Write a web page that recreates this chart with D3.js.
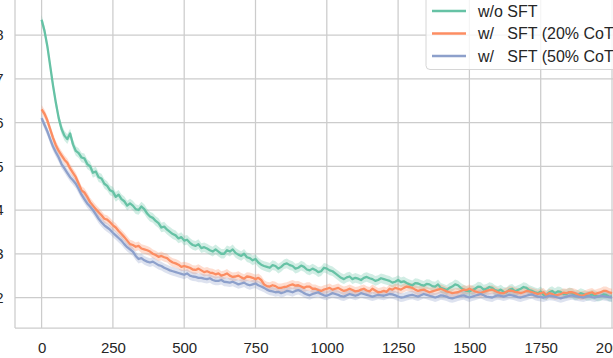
<!DOCTYPE html>
<html><head><meta charset="utf-8">
<script src="https://cdn.jsdelivr.net/npm/d3@7"></script>
<style>body{margin:0;background:#fff}svg{display:block}text{font-family:"Liberation Sans",Arial,sans-serif}</style>
</head><body>
<svg id="c" width="613" height="358"></svg>
<script>
const steps = d3.range(0, 2001, 10);
const xTicks = [0,250,500,750,1000,1250,1500,1750,2000];
const yTicks = [2,3,4,5,6,7,8];
const seriesNames = ["w/o SFT", "w/   SFT (20% CoT)", "w/   SFT (50% CoT)"];
const woSFT = [8.35,8.1,7.75,7.3,6.85,6.45,6.1,5.85,5.7,5.62,5.75,5.5,5.35,5.3,5.2,5.18,5.05,5.0,4.85,4.88,
4.75,4.72,4.6,4.55,4.45,4.42,4.3,4.35,4.25,4.2,4.1,4.15,4.1,4.02,4.0,4.08,4.02,3.92,3.85,3.82,
3.75,3.7,3.6,3.62,3.55,3.5,3.45,3.42,3.35,3.38,3.3,3.32,3.25,3.2,3.18,3.22,3.13,3.15,3.12,3.08,
3.05,3.1,3.05,3.0,3.0,3.08,3.05,3.1,3.02,2.98,2.95,3.0,2.92,2.9,2.85,2.88,2.8,2.75,2.72,2.7,
2.68,2.74,2.72,2.66,2.7,2.76,2.78,2.74,2.72,2.66,2.68,2.73,2.7,2.64,2.62,2.66,2.63,2.58,2.6,2.68,
2.66,2.62,2.6,2.55,2.5,2.45,2.42,2.46,2.48,2.42,2.45,2.43,2.4,2.45,2.47,2.44,2.42,2.38,2.4,2.44,
2.42,2.4,2.38,2.34,2.36,2.4,2.35,2.37,2.33,2.3,2.28,2.33,2.32,2.29,2.27,2.31,2.3,2.26,2.25,2.3,
2.22,2.2,2.17,2.22,2.25,2.3,2.28,2.22,2.18,2.15,2.14,2.17,2.2,2.25,2.24,2.18,2.2,2.24,2.22,2.17,
2.15,2.18,2.13,2.12,2.18,2.2,2.14,2.17,2.2,2.24,2.22,2.17,2.15,2.12,2.1,2.14,2.06,2.05,2.12,2.15,
2.1,2.14,2.13,2.08,2.08,2.12,2.1,2.05,2.06,2.1,2.08,2.04,2.04,2.07,2.05,2.02,2.03,2.07,2.06,2.02,
2.02];
const sft20 = [6.3,6.2,6.05,5.85,5.65,5.48,5.35,5.25,5.15,5.08,4.95,4.85,4.75,4.6,4.45,4.4,4.3,4.18,4.1,4.02,
3.95,3.88,3.8,3.78,3.72,3.65,3.6,3.52,3.45,3.38,3.3,3.22,3.2,3.16,3.18,3.12,3.1,3.08,3.05,3.0,
2.97,2.93,2.95,2.92,2.9,2.84,2.8,2.78,2.75,2.7,2.72,2.7,2.68,2.64,2.63,2.66,2.62,2.58,2.6,2.57,
2.56,2.53,2.55,2.5,2.52,2.55,2.5,2.47,2.48,2.5,2.46,2.43,2.48,2.47,2.45,2.42,2.45,2.4,2.3,2.26,
2.25,2.28,2.26,2.22,2.22,2.24,2.25,2.28,2.3,2.27,2.28,2.25,2.22,2.25,2.25,2.2,2.2,2.17,2.15,2.18,
2.2,2.22,2.18,2.2,2.22,2.18,2.15,2.17,2.2,2.17,2.14,2.15,2.18,2.2,2.16,2.14,2.2,2.16,2.12,2.13,
2.15,2.13,2.2,2.18,2.22,2.2,2.18,2.22,2.25,2.24,2.22,2.18,2.15,2.17,2.18,2.15,2.12,2.14,2.16,2.18,
2.2,2.17,2.14,2.12,2.1,2.11,2.12,2.15,2.18,2.17,2.2,2.17,2.14,2.12,2.1,2.13,2.15,2.17,2.18,2.15,
2.12,2.1,2.1,2.13,2.16,2.15,2.13,2.12,2.1,2.12,2.15,2.14,2.12,2.1,2.08,2.1,2.12,2.05,2.1,2.08,
2.05,2.06,2.08,2.11,2.1,2.12,2.12,2.1,2.07,2.04,2.05,2.08,2.1,2.12,2.08,2.1,2.12,2.15,2.15,2.12,
2.1];
const sft50 = [6.1,5.95,5.8,5.62,5.45,5.32,5.2,5.05,4.95,4.85,4.75,4.68,4.6,4.48,4.35,4.25,4.15,4.08,4.0,3.9,
3.8,3.72,3.65,3.6,3.55,3.48,3.42,3.36,3.3,3.22,3.15,3.1,3.05,2.95,2.88,2.9,2.85,2.82,2.8,2.82,
2.78,2.74,2.72,2.68,2.65,2.62,2.6,2.58,2.56,2.54,2.52,2.55,2.5,2.48,2.47,2.45,2.45,2.43,2.42,2.44,
2.4,2.38,2.38,2.4,2.36,2.35,2.34,2.36,2.33,2.3,2.32,2.34,2.3,2.28,2.3,2.32,2.28,2.25,2.22,2.18,
2.15,2.14,2.12,2.13,2.1,2.12,2.15,2.14,2.12,2.15,2.17,2.14,2.1,2.07,2.05,2.08,2.1,2.12,2.08,2.05,
2.04,2.07,2.1,2.08,2.06,2.03,2.02,2.05,2.08,2.06,2.04,2.06,2.1,2.08,2.06,2.04,2.02,2.04,2.06,2.05,
2.04,2.06,2.08,2.07,2.05,2.02,2.0,2.01,2.03,2.05,2.06,2.04,2.02,2.05,2.08,2.06,2.04,2.02,2.0,2.02,
2.05,2.04,2.02,1.99,1.98,2.0,2.02,2.04,2.05,2.02,2.0,2.02,2.04,2.06,2.08,2.05,2.02,2.01,2.0,2.03,
2.05,2.04,2.02,2.04,2.06,2.05,2.03,2.01,2.0,2.02,2.04,2.06,2.07,2.04,2.02,2.01,2.0,2.02,2.04,2.03,
2.02,2.0,1.98,2.0,2.02,2.04,2.05,2.03,2.02,2.01,2.0,2.02,2.03,2.01,2.0,2.02,2.04,2.03,2.02,2.01,
2.0];
const bandHalf = [0.11, 0.1, 0.1];

const colors = ["#66c2a5", "#fc8d62", "#8da0cb"];
const svg = d3.select("#c");
const L = 15, B = 328, R = 640, T = -20;
const x = d3.scaleLinear().domain([0, 2000]).range([41.6, 612]);
const y = d3.scaleLinear().domain([2, 8]).range([297.5, 35]);

svg.append("defs").append("clipPath").attr("id","clip").append("rect")
  .attr("x", L).attr("y", T).attr("width", R - L).attr("height", B - T);

const g = svg.append("g");
g.selectAll(".vg").data(xTicks).join("line")
  .attr("x1", d => x(d)).attr("x2", d => x(d)).attr("y1", T).attr("y2", B)
  .attr("stroke", "#cccccc").attr("stroke-width", 1.25);
g.selectAll(".hg").data(yTicks).join("line")
  .attr("y1", d => y(d)).attr("y2", d => y(d)).attr("x1", L).attr("x2", R)
  .attr("stroke", "#cccccc").attr("stroke-width", 1.25);
svg.append("line").attr("x1", L).attr("x2", L).attr("y1", T).attr("y2", B).attr("stroke", "#cccccc").attr("stroke-width", 1.25);
svg.append("line").attr("x1", L).attr("x2", R).attr("y1", B).attr("y2", B).attr("stroke", "#cccccc").attr("stroke-width", 1.25);

const xAxis = svg.append("g").attr("transform", `translate(0,${B})`)
  .call(d3.axisBottom(x).tickValues(xTicks).tickSize(0).tickPadding(14).tickFormat(d3.format("d")));
const yAxis = svg.append("g").attr("transform", `translate(${L},0)`)
  .call(d3.axisLeft(y).tickValues(yTicks).tickSize(0).tickPadding(11.5).tickFormat(d3.format("d")));
[xAxis, yAxis].forEach(a => {
  a.select(".domain").remove();
  a.selectAll("text").attr("font-size", 15).attr("fill", "#262626")
    .attr("font-family", '"Liberation Sans", Arial, sans-serif');
});

const all = [woSFT, sft20, sft50];
const plot = svg.append("g").attr("clip-path", "url(#clip)");
const toData = vals => steps.slice(0, vals.length).map((s, j) => ({s, v: vals[j]}));
all.forEach((vals, i) => {
  const area = d3.area().x(d => x(d.s)).y0(d => y(d.v - bandHalf[i])).y1(d => y(d.v + bandHalf[i]));
  plot.append("path").datum(toData(vals)).attr("d", area).attr("fill", colors[i]).attr("fill-opacity", 0.3);
});
all.forEach((vals, i) => {
  const line = d3.line().x(d => x(d.s)).y(d => y(d.v));
  plot.append("path").datum(toData(vals)).attr("d", line).attr("fill", "none")
    .attr("stroke", colors[i]).attr("stroke-width", 2.3).attr("stroke-linejoin", "round");
});

const lg = svg.append("g");
lg.append("rect").attr("x", 426).attr("y", -12).attr("width", 260).attr("height", 81.5)
  .attr("rx", 4).attr("fill", "#ffffff").attr("fill-opacity", 0.8).attr("stroke", "#d6d6d6").attr("stroke-width", 1);
seriesNames.forEach((n, i) => {
  const cy = 11 + i * 22.5;
  lg.append("line").attr("x1", 432).attr("x2", 466).attr("y1", cy).attr("y2", cy)
    .attr("stroke", colors[i]).attr("stroke-width", 2.3);
  lg.append("text").attr("x", 478).attr("y", cy).attr("dy", "0.36em")
    .attr("font-size", 16).attr("fill", "#262626").style("white-space", "pre").text(n);
});
</script>
</body></html>
